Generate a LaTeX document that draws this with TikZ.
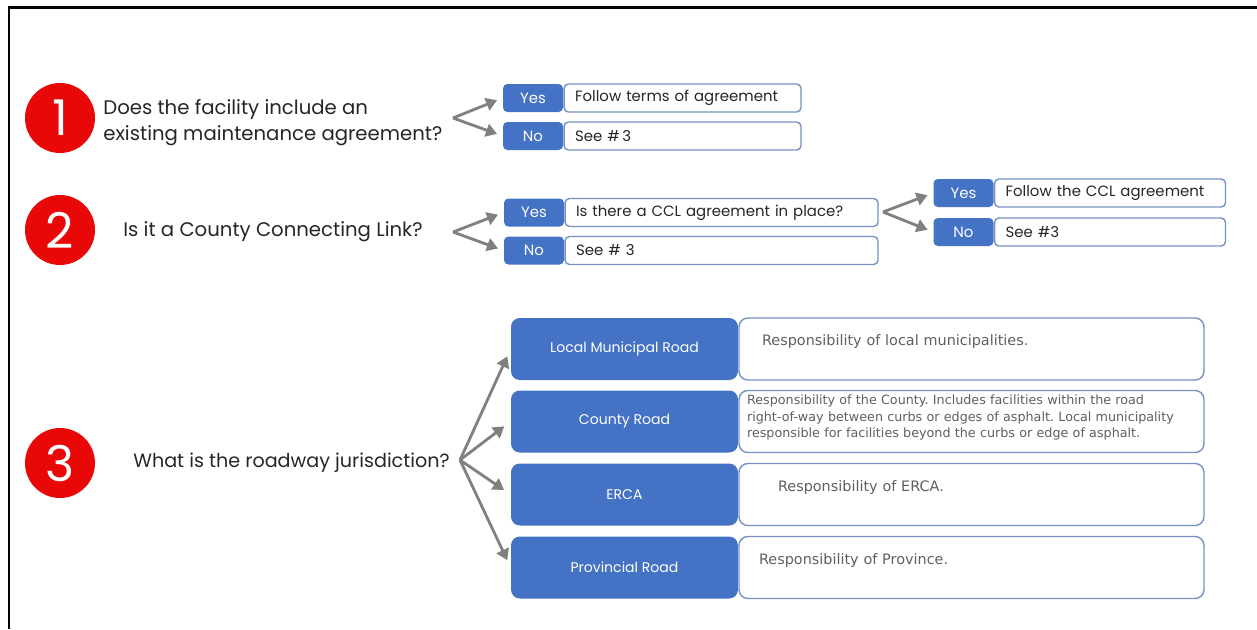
\documentclass[tikz,border=0pt]{standalone}
\usepackage{fontspec}
\setmainfont{Poppins}
\newfontfamily\notefont{DejaVu Sans}
\usetikzlibrary{positioning,arrows.meta}
\definecolor{stepred}{RGB}{232,8,8}
\definecolor{boxblue}{RGB}{68,114,196}
\definecolor{edgeblue}{RGB}{118,146,196}
\definecolor{arrowgrey}{RGB}{128,128,128}
\definecolor{textgrey}{RGB}{38,38,38}
\definecolor{notegrey}{RGB}{96,96,96}
\frenchspacing

\begin{document}
\begin{tikzpicture}[x=0.02cm, y=-0.02cm,
    stepnum/.style={circle, fill=stepred, minimum size=1.4cm, inner sep=0pt, text=white, font=\fontsize{28}{28}\selectfont},
    question/.style={anchor=west, inner sep=0pt, align=left, text=textgrey, font=\fontsize{11.2}{14.8}\selectfont},
    tag/.style={rectangle, rounded corners=2.5pt, fill=boxblue, text=white, minimum width=1.2cm, minimum height=0.56cm, inner sep=0pt, font=\fontsize{8.5}{10}\selectfont},
    answer/.style={rectangle, rounded corners=2.5pt, draw=edgeblue, line width=0.8pt, fill=white, minimum height=0.56cm, inner xsep=0.22cm, inner ysep=0pt, text width=#1, align=left, text=textgrey, font=\fontsize{8.5}{10}\selectfont},
    road/.style={rectangle, rounded corners=5pt, fill=boxblue, text=white, minimum width=4.54cm, minimum height=1.24cm, inner sep=0pt, font=\fontsize{8}{10}\selectfont},
    duty/.style 2 args={rectangle, rounded corners=5pt, draw=edgeblue, line width=0.8pt, fill=white, minimum height=1.24cm, inner xsep=#1, inner ysep=0pt, text width=#2, align=left, text=notegrey, font=\notefont\fontsize{8.2}{10}\selectfont},
    lifted/.style={execute at end node={\vspace{#1}}},
    branch/.style={-{Triangle[length=2.2mm, width=2.6mm]}, line width=1.6pt, draw=arrowgrey, shorten >=0.12cm}
]
\useasboundingbox (0,0) rectangle (1257,629);

% Frame
\draw[line width=0.06cm] (9,629) -- (9,7) -- (1257,7);

% Step numbers
\node[stepnum] (n1) at (60,118) {1};
\node[stepnum] (n2) at (60,230) {2};
\node[stepnum] (n3) at (60,463) {3};

% Questions
\node[question] (q1) at (103,123) {Does the facility include an\\existing maintenance agreement?};
\node[question] (q2) at (123,232) {Is it a County Connecting Link?};
\node[question, font=\fontsize{10.9}{14}\selectfont] (q3) at (133,463) {What is the roadway jurisdiction?};

% Branch points
\coordinate (v1) at (453,118);
\coordinate (v2) at (453,232);
\coordinate (v2b) at (883,212);
\coordinate (v3) at (460,460);

% Question 1 answers
\node[tag] (yes1) at (533,98) {Yes};
\node[answer=4.3cm, right=0pt of yes1] (follow1) {Follow terms of agreement};
\node[tag] (no1) at (533,136) {No};
\node[answer=4.3cm, right=0pt of no1] (see1) {See \#\,3};

% Question 2 answers
\node[tag] (yes2) at (534,212.5) {Yes};
\node[answer=5.82cm, right=0pt of yes2] (ccl) {Is there a CCL agreement in place?};
\node[tag] (no2) at (534,250.5) {No};
\node[answer=5.82cm, right=0pt of no2] (see2) {See \# 3};

% CCL agreement answers
\node[tag] (yes3) at (963.5,193) {Yes};
\node[answer=4.18cm, right=0pt of yes3] (follow3) {Follow the CCL agreement};
\node[tag] (no3) at (963.5,232) {No};
\node[answer=4.18cm, right=0pt of no3] (see3) {See \#3};

% Roadway jurisdiction
\node[road] (local) at (624.5,349) {Local Municipal Road};
\node[road] (county) at (624.5,421.5) {County Road};
\node[road] (erca) at (624.5,494.5) {ERCA};
\node[road] (prov) at (624.5,567.5) {Provincial Road};

\node[duty={0.46cm}{8.38cm}, lifted=0.28cm, right=0pt of local] (dlocal) {Responsibility of local municipalities.};
\node[duty={0.16cm}{8.98cm}, lifted=0.16cm, right=0pt of county, font=\notefont\fontsize{7.25}{9.6}\selectfont] (dcounty) {Responsibility of the County. Includes facilities within the road\\right-of-way between curbs or edges of asphalt. Local municipality\\responsible for facilities beyond the curbs or edge of asphalt.};
\node[duty={0.78cm}{7.74cm}, lifted=0.28cm, right=0pt of erca] (derca) {Responsibility of ERCA.};
\node[duty={0.4cm}{8.5cm}, lifted=0.28cm, right=0pt of prov] (dprov) {Responsibility of Province.};

% Branch arrows
\draw[branch] (v1) -- (yes1.west);
\draw[branch] (v1) -- (no1.west);
\draw[branch] (v2) -- (yes2.west);
\draw[branch] (v2) -- (no2.west);
\draw[branch] (v2b) -- (yes3.west);
\draw[branch] (v2b) -- (no3.west);
\foreach \r in {local, county, erca, prov}
    \draw[branch, shorten >=0.16cm] (v3) -- (\r.west);

\end{tikzpicture}
\end{document}
